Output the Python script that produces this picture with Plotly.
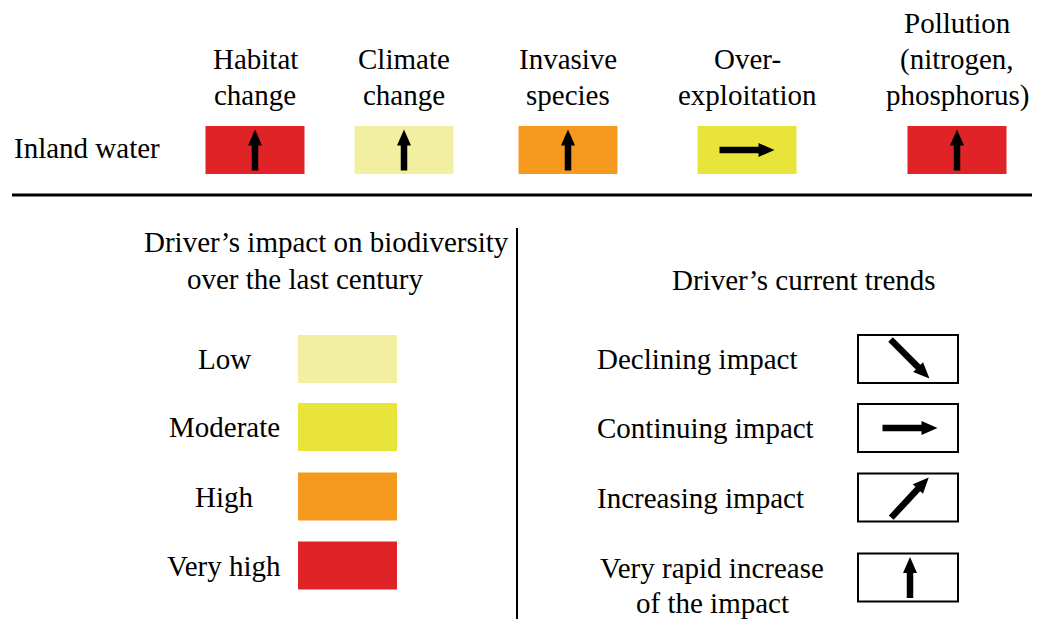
import math
import plotly.graph_objects as go

# ---------------- data ----------------
row_label = "Inland water"
driver_labels = [
    ["Habitat", "change"],
    ["Climate", "change"],
    ["Invasive", "species"],
    ["Over-", "exploitation"],
    ["Pollution", "(nitrogen,", "phosphorus)"],
]
driver_impact = ["Very high", "Low", "High", "Moderate", "Very high"]
driver_trend = ["Very rapid increase", "Very rapid increase", "Very rapid increase",
                "Continuing", "Very rapid increase"]

impact_levels = ["Low", "Moderate", "High", "Very high"]
impact_colors = ["#F2EFA0", "#E8E43A", "#F5991F", "#E02326"]

trend_levels = ["Declining", "Continuing", "Increasing", "Very rapid increase"]
trend_labels = ["Declining impact", "Continuing impact", "Increasing impact",
                "Very rapid increase", "of the impact"]
trend_angles = {"Declining": -45, "Continuing": 0, "Increasing": 47, "Very rapid increase": 90}

impact_title = ["Driver\u2019s impact on biodiversity", "over the last century"]
trend_title = "Driver\u2019s current trends"

# ---------------- layout constants ----------------
W, H = 1044, 619
FONT = "Liberation Serif"
FS = 29
col_x = [255, 404, 568, 747, 957]
box_w, box_h = 99, 48
row_yc = 150
label_last_mid = 95
line_gap = 36

leg_box_x0, leg_box_x1 = 298, 397
leg_yc = [359, 427, 496.5, 565.5]
leg_label_x = 224

tr_box_x0, tr_box_x1 = 858, 958
tr_yc = [359, 428, 497.5, 577.5]
tr_label_x = 595

arrow_len = {"Very rapid increase": 41}
default_len = 55

color_of = dict(zip(impact_levels, impact_colors))

shapes = []
annotations = []


def txt(x, y, s, xanchor="center", size=FS):
    annotations.append(dict(x=x, y=y, xref="x", yref="y", text=s, showarrow=False,
                            xanchor=xanchor, yanchor="middle",
                            font=dict(family=FONT, size=size, color="black")))


def arrow_path(cx, cy, ang, L, w=6.5, hl=16, hw=14):
    a = math.radians(ang)
    dx, dy = math.cos(a), -math.sin(a)
    nx, ny = -dy, dx
    tx, ty = cx - dx * L / 2, cy - dy * L / 2
    px, py = cx + dx * L / 2, cy + dy * L / 2
    bx, by = px - dx * hl, py - dy * hl
    pts = [
        (tx + nx * w / 2, ty + ny * w / 2),
        (bx + nx * w / 2, by + ny * w / 2),
        (bx + nx * hw / 2, by + ny * hw / 2),
        (px, py),
        (bx - nx * hw / 2, by - ny * hw / 2),
        (bx - nx * w / 2, by - ny * w / 2),
        (tx - nx * w / 2, ty - ny * w / 2),
    ]
    return "M " + " L ".join(f"{x:.2f},{y:.2f}" for x, y in pts) + " Z"


def add_arrow(cx, cy, trend):
    L = arrow_len.get(trend, default_len)
    shapes.append(dict(type="path", xref="x", yref="y",
                       path=arrow_path(cx, cy, trend_angles[trend], L),
                       fillcolor="black", line=dict(width=0)))


# top row
txt(12, 148, row_label, xanchor="left")
for cx, lines, imp, tr in zip(col_x, driver_labels, driver_impact, driver_trend):
    n = len(lines)
    for i, s in enumerate(lines):
        txt(cx, label_last_mid - (n - 1 - i) * line_gap, s)
    shapes.append(dict(type="rect", xref="x", yref="y",
                       x0=cx - box_w / 2, x1=cx + box_w / 2,
                       y0=row_yc - box_h / 2, y1=row_yc + box_h / 2,
                       fillcolor=color_of[imp], line=dict(width=0)))
    add_arrow(cx, row_yc, tr)

# separators
shapes.append(dict(type="line", xref="x", yref="y", x0=12, x1=1032, y0=195, y1=195,
                   line=dict(color="black", width=3)))
shapes.append(dict(type="line", xref="x", yref="y", x0=517, x1=517, y0=228, y1=619,
                   line=dict(color="black", width=2)))

# impact legend
txt(326, 242, impact_title[0])
txt(305, 279, impact_title[1])
for lvl, col, yc in zip(impact_levels, impact_colors, leg_yc):
    txt(leg_label_x, yc, lvl)
    shapes.append(dict(type="rect", xref="x", yref="y",
                       x0=leg_box_x0, x1=leg_box_x1, y0=yc - box_h / 2, y1=yc + box_h / 2,
                       fillcolor=col, line=dict(width=0)))

# trend legend
txt(804, 280, trend_title)
for i, (tr, yc) in enumerate(zip(trend_levels, tr_yc)):
    shapes.append(dict(type="rect", xref="x", yref="y",
                       x0=tr_box_x0, x1=tr_box_x1, y0=yc - box_h / 2, y1=yc + box_h / 2,
                       fillcolor="white", line=dict(color="black", width=2)))
    add_arrow((tr_box_x0 + tr_box_x1) / 2 + 2, yc, tr)
for i in range(3):
    txt(tr_label_x, tr_yc[i], trend_labels[i], xanchor="left")
txt(712, 567.5, trend_labels[3])
txt(712, 602.5, trend_labels[4])

fig = go.Figure()
fig.add_trace(go.Scatter(x=[0, W], y=[0, H], mode="markers",
                         marker=dict(opacity=0), hoverinfo="skip", showlegend=False))
fig.update_layout(
    width=W, height=H, margin=dict(l=0, r=0, t=0, b=0),
    paper_bgcolor="white", plot_bgcolor="white",
    font=dict(family=FONT),
    xaxis=dict(range=[0, W], visible=False, fixedrange=True),
    yaxis=dict(range=[H, 0], visible=False, fixedrange=True),
    shapes=shapes, annotations=annotations, showlegend=False,
)
fig.write_html("out.html", config={"displayModeBar": False},
               post_script="document.body.style.margin='0';document.body.style.padding='0';"
                           "document.body.style.overflow='hidden';")
